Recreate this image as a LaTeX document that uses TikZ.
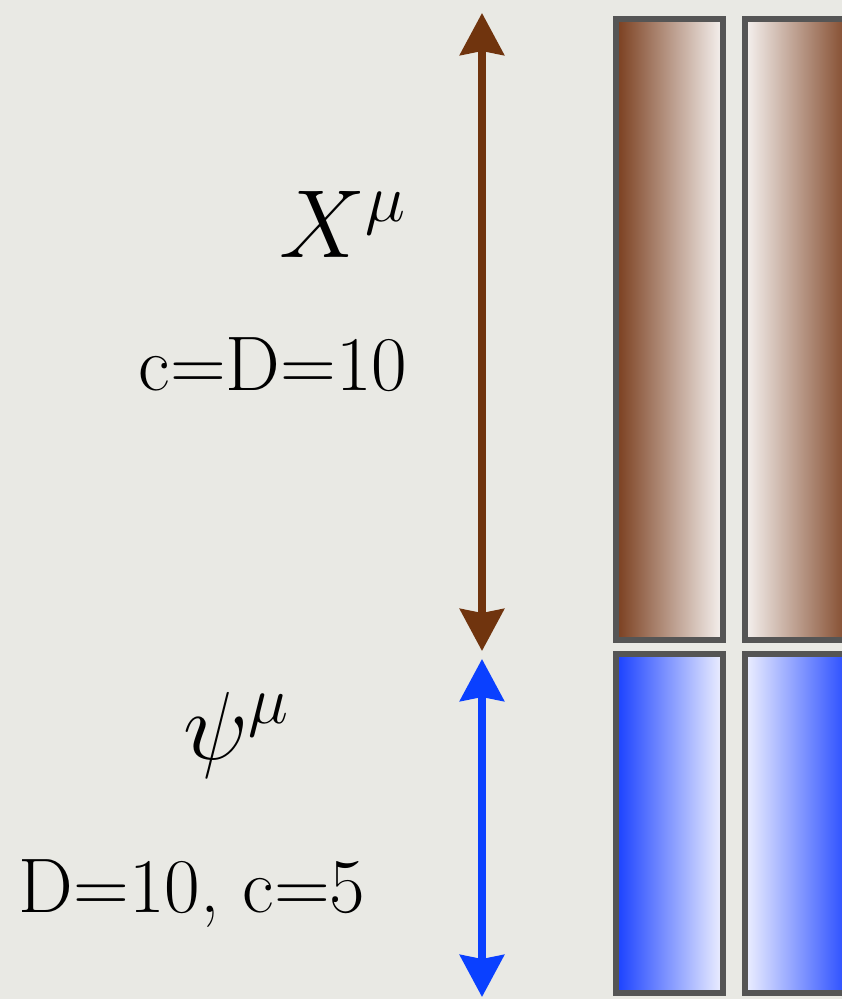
\RequirePackage{fix-cm}
\documentclass[tikz,border=0pt]{standalone}
\definecolor{paper}{RGB}{233,233,228}
\definecolor{stringbrown}{RGB}{112,52,14}
\definecolor{barbrown}{RGB}{122,62,30}
\definecolor{barwhite}{RGB}{246,242,240}
\definecolor{fermiblue}{RGB}{10,64,255}
\definecolor{barblue}{RGB}{25,64,255}
\definecolor{paleblue}{RGB}{238,240,255}
\definecolor{framegray}{RGB}{85,85,85}
\usepackage{tikz}
\usetikzlibrary{arrows.meta,positioning}
\tikzset{
  barframe/.style={draw=framegray, line width=1.6pt},
  sizearrow/.style={line width=2pt, {Stealth[length=0.42cm,width=0.44cm,inset=0.04cm]}-{Stealth[length=0.42cm,width=0.44cm,inset=0.04cm]}},
  biglabel/.style={inner sep=0pt, font=\fontsize{27.5}{32}\selectfont},
  smalllabel/.style={inner sep=0pt, font=\fontsize{22}{26}\selectfont}
}

\begin{document}
\begin{tikzpicture}[x=0.01cm, y=-0.01cm]
    % Background
    \fill[paper] (0,0) rectangle (842,999);
    \useasboundingbox (0,0) rectangle (842,999);

    % Bosonic bars
    \shade[left color=barbrown, right color=barwhite] (616,19) rectangle (723,640);
    \draw[barframe] (616,19) rectangle (723,640);
    \shade[left color=barwhite, right color=barbrown] (745,19) rectangle (855,640);
    \draw[barframe] (745,19) rectangle (855,640);

    % Fermionic bars
    \shade[left color=barblue, right color=paleblue] (616,654) rectangle (723,993);
    \draw[barframe] (616,654) rectangle (723,993);
    \shade[left color=paleblue, right color=barblue] (745,654) rectangle (855,993);
    \draw[barframe] (745,654) rectangle (855,993);

    % Arrows
    \coordinate (xtop) at (482,13);
    \coordinate (xbot) at (482,651);
    \coordinate (psitop) at (482,659);
    \coordinate (psibot) at (482,997);
    \draw[sizearrow, stringbrown] (xtop) -- (xbot);
    \draw[sizearrow, fermiblue] (psitop) -- (psibot);

    % Labels
    \node[biglabel, anchor=base east] (xmu) at (408,257) {$X^{\mu}$};
    \node[smalllabel, anchor=base east] (xcount) at (408,390) {c=D=10};
    \node[biglabel, anchor=base] (psimu) at (237,759) {$\psi^{\mu}$};
    \node[smalllabel, anchor=base] (psicount) at (192,912) {D=10, c=5};
\end{tikzpicture}
\end{document}
